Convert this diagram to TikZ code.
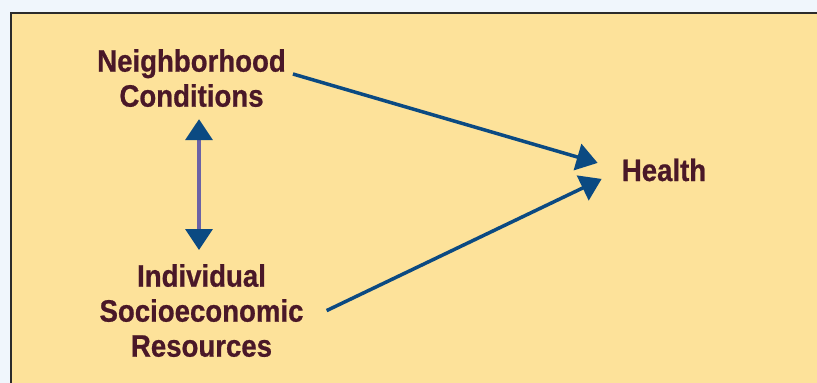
\documentclass[tikz,border=0pt]{standalone}
\usepackage{fontspec}
\setmainfont{Liberation Sans}[FakeStretch=0.89, BoldFeatures={FakeBold=0.7}]
\usetikzlibrary{arrows.meta,calc}
\definecolor{pagebg}{HTML}{F0F6FC}
\definecolor{panel}{HTML}{FDE29A}
\definecolor{frame}{HTML}{2B2B2B}
\definecolor{ink}{HTML}{4A1828}
\definecolor{arrowblue}{HTML}{0B4A82}
\definecolor{shaft}{HTML}{6B62A6}
\tikzset{
  lbl/.style={inner sep=0pt, align=center, text=ink, font={\fontsize{31}{35}\selectfont\bfseries}},
  link/.style={draw=arrowblue, line width=3.5pt, -{Triangle[length=21pt,width=27pt]}},
  twoway/.style={draw=shaft, line width=3.5pt, {Triangle[length=21pt,width=27pt,color=arrowblue]}-{Triangle[length=21pt,width=27pt,color=arrowblue]}}
}
\begin{document}
\begin{tikzpicture}[x=1pt,y=-1pt]
\useasboundingbox (0,0) rectangle (817,383);
\fill[pagebg] (0,0) rectangle (817,383);
\draw[frame, fill=panel, line width=2.2pt] (11,13) rectangle (840,400);
\node[lbl, anchor=north] (nb) at (191.5,49) {Neighborhood\\Conditions};
\node[lbl, anchor=north] (ses) at (201.5,264) {Individual\\Socioeconomic\\Resources};
\node[lbl, anchor=base] (health) at (664,181) {Health};
\draw[link] ($(nb.north east)+(7,25)$) -- ($(health.west)+(-24,-7)$);
\draw[link] ($(ses.east)+(23,0)$ |- 0,314) -- ($(health.west)+(-20,9)$);
\draw[twoway] ($(nb.south)+(7.5,12)$) -- ($(ses.north)+(-2.5,-14)$);
\end{tikzpicture}
\end{document}
